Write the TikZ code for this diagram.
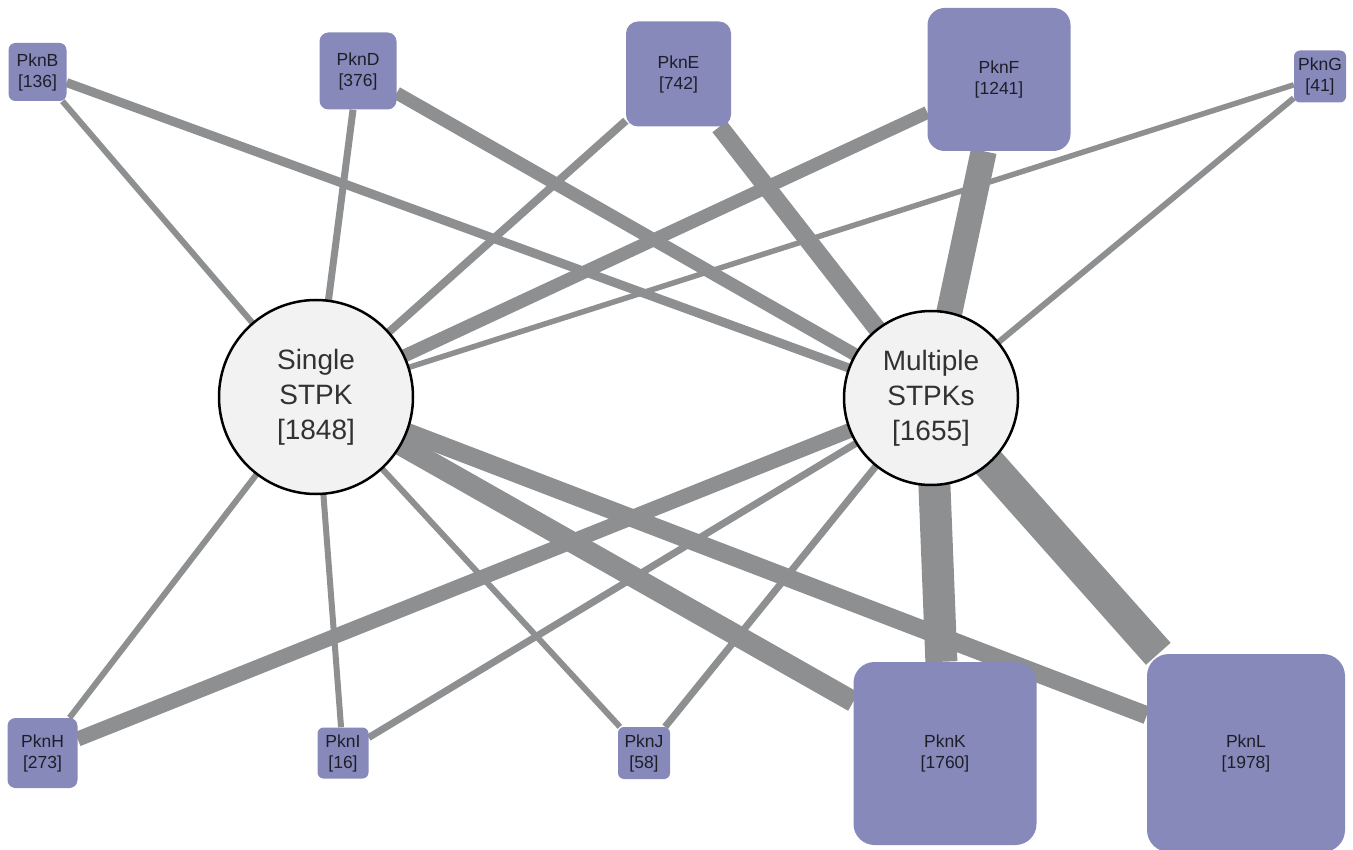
\documentclass[tikz,border=0pt]{standalone}
\usepackage{fontspec}
\setmainfont{Liberation Sans}
\usetikzlibrary{backgrounds}
\definecolor{boxfill}{RGB}{134,137,186}
\definecolor{edgecol}{RGB}{142,143,144}
\definecolor{circfill}{RGB}{242,242,242}
\definecolor{boxtext}{RGB}{30,30,40}
\definecolor{hubtext}{RGB}{50,50,50}
\begin{document}
\begin{tikzpicture}[x=1pt,y=-1pt,
  kin/.style={rectangle, fill=boxfill, inner sep=0pt, align=center,
    font=\fontsize{17.5}{21}\selectfont, text=boxtext},
  hub/.style={circle, fill=circfill, draw=black, line width=2.5pt, inner sep=0pt,
    align=center, font=\fontsize{28}{35}\selectfont, text=hubtext},
  link/.style={draw=edgecol, line cap=butt}]
\useasboundingbox (0,0) rectangle (1353,850);
% hubs
\node[hub, minimum size=194pt] (S) at (316,397) {Single\\STPK\\{[1848]}};
\node[hub, minimum size=174pt] (M) at (931,398) {Multiple\\STPKs\\{[1655]}};
% kinases
\node[kin, minimum size=58pt, rounded corners=7pt] (B) at (37.5,72) {PknB\\{[136]}};
\node[kin, minimum size=77pt, rounded corners=9pt] (D) at (358,71) {PknD\\{[376]}};
\node[kin, minimum size=105pt, rounded corners=12pt] (E) at (678.5,74) {PknE\\{[742]}};
\node[kin, minimum size=143pt, rounded corners=17pt] (F) at (999,79.5) {PknF\\{[1241]}};
\node[kin, minimum size=52pt, rounded corners=6pt] (G) at (1320,76.5) {PknG\\{[41]}};
\node[kin, minimum size=70pt, rounded corners=8pt] (H) at (42.5,753) {PknH\\{[273]}};
\node[kin, minimum size=51pt, rounded corners=6pt] (I) at (343,753) {PknI\\{[16]}};
\node[kin, minimum size=52pt, rounded corners=6pt] (J) at (644,753) {PknJ\\{[58]}};
\node[kin, minimum size=183pt, rounded corners=21pt] (K) at (945,753.5) {PknK\\{[1760]}};
\node[kin, minimum size=198pt, rounded corners=22pt] (L) at (1246,753) {PknL\\{[1978]}};
% connectors
\begin{scope}[on background layer]
\draw[link, line width=6pt] (S.center) -- (B);
\draw[link, line width=7pt] (S.center) -- (D);
\draw[link, line width=8pt] (S.center) -- (E);
\draw[link, line width=13pt] (S.center) -- (F);
\draw[link, line width=5.5pt] (S.center) -- (G);
\draw[link, line width=6pt] (S.center) -- (H);
\draw[link, line width=6pt] (S.center) -- (I);
\draw[link, line width=6pt] (S.center) -- (J);
\draw[link, line width=21pt] (S.center) -- (K);
\draw[link, line width=18pt] (S.center) -- (L);
\draw[link, line width=9pt] (M.center) -- (B);
\draw[link, line width=13pt] (M.center) -- (D);
\draw[link, line width=18pt] (M.center) -- (E);
\draw[link, line width=26pt] (M.center) -- (F);
\draw[link, line width=6pt] (M.center) -- (G);
\draw[link, line width=15pt] (M.center) -- (H);
\draw[link, line width=7pt] (M.center) -- (I);
\draw[link, line width=7pt] (M.center) -- (J);
\draw[link, line width=32pt] (M.center) -- (K);
\draw[link, line width=33pt] (M.center) -- (L);
\end{scope}
\end{tikzpicture}
\end{document}
